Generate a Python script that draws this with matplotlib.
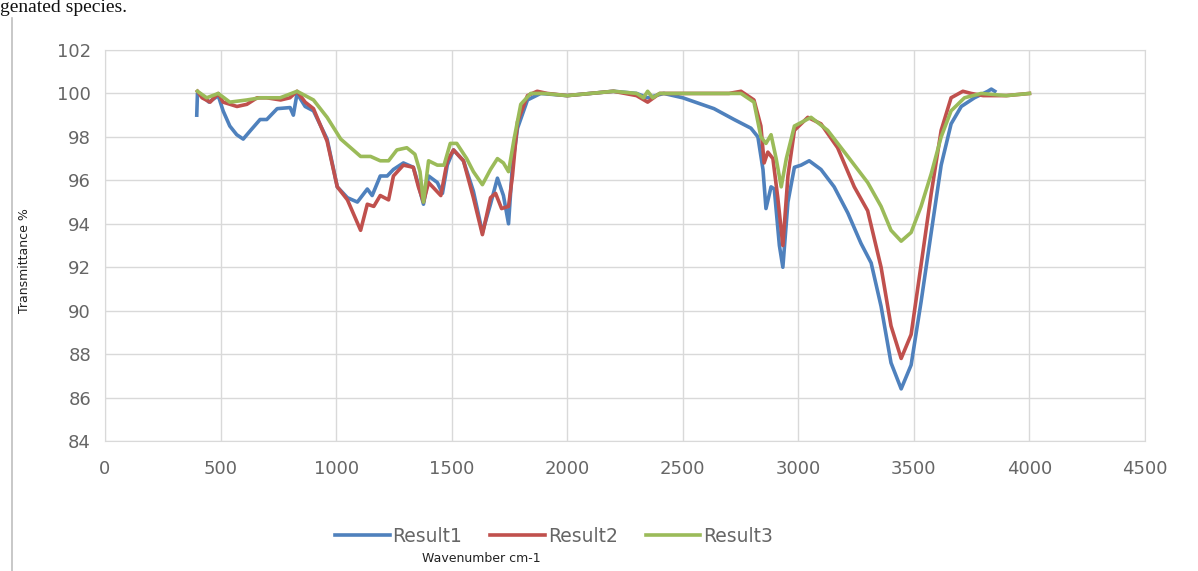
import matplotlib
matplotlib.use("Agg")
import matplotlib.pyplot as plt
from matplotlib.lines import Line2D

# ---- data ----
wn1 = [397, 400, 410, 450, 490, 511, 540, 570, 598, 630,
       671, 700, 745, 801, 815, 831, 866, 902, 961, 1005,
       1049, 1092, 1135, 1156, 1191, 1221, 1248, 1291, 1334, 1356,
       1378, 1400, 1438, 1460, 1481, 1508, 1551, 1594, 1633, 1668,
       1698, 1724, 1746, 1763, 1785, 1828, 1885, 2000, 2100, 2200,
       2300, 2348, 2418, 2500, 2635, 2722, 2795, 2825, 2847, 2860,
       2882, 2896, 2918, 2933, 2955, 2983, 3012, 3047, 3098, 3155,
       3214, 3271, 3315, 3358, 3401, 3445, 3488, 3531, 3575, 3618,
       3661, 3705, 3762, 3820, 3835, 3850]
result1 = [99.0, 100.0, 100.0, 99.6, 99.9, 99.2, 98.5, 98.1, 97.9, 98.3,
           98.8, 98.8, 99.3, 99.35, 99.0, 100.0, 99.4, 99.2, 97.9, 95.7,
           95.2, 95.0, 95.6, 95.3, 96.2, 96.2, 96.5, 96.8, 96.6, 95.8,
           94.9, 96.2, 95.9, 95.4, 96.7, 97.4, 96.9, 95.5, 93.6, 94.9,
           96.1, 95.3, 94.0, 96.7, 98.4, 99.7, 100.0, 99.9, 100.0, 100.1,
           100.0, 99.8, 100.0, 99.8, 99.3, 98.8, 98.4, 98.0, 96.5, 94.7,
           95.7, 95.6, 93.0, 92.0, 95.0, 96.6, 96.7, 96.9, 96.5, 95.7,
           94.5, 93.1, 92.2, 90.2, 87.6, 86.4, 87.5, 90.4, 93.6, 96.7,
           98.6, 99.4, 99.8, 100.1, 100.2, 100.1]

wn2 = [400, 420, 455, 490, 511, 571, 614, 658, 700, 760,
       800, 831, 866, 902, 961, 1005, 1049, 1106, 1135, 1163,
       1191, 1227, 1248, 1291, 1334, 1356, 1378, 1400, 1453, 1481,
       1508, 1551, 1594, 1633, 1668, 1690, 1716, 1746, 1763, 1785,
       1828, 1870, 1914, 2000, 2100, 2200, 2300, 2348, 2400, 2500,
       2600, 2700, 2752, 2808, 2838, 2852, 2868, 2890, 2911, 2933,
       2955, 2983, 3041, 3098, 3170, 3242, 3300, 3358, 3401, 3445,
       3488, 3531, 3575, 3618, 3661, 3712, 3748, 3800, 3900, 4000]
result2 = [100.1, 99.8, 99.6, 100.0, 99.6, 99.4, 99.5, 99.8, 99.8, 99.7,
           99.8, 100.1, 99.6, 99.3, 97.8, 95.7, 95.1, 93.7, 94.9, 94.8,
           95.3, 95.1, 96.2, 96.7, 96.6, 95.7, 95.0, 95.9, 95.3, 96.9,
           97.4, 96.9, 95.2, 93.5, 95.2, 95.4, 94.7, 94.8, 96.2, 98.7,
           99.9, 100.1, 100.0, 99.9, 100.0, 100.1, 99.9, 99.6, 100.0, 100.0,
           100.0, 100.0, 100.1, 99.7, 98.5, 96.8, 97.3, 97.0, 95.2, 93.0,
           96.2, 98.3, 98.9, 98.6, 97.5, 95.7, 94.6, 92.0, 89.3, 87.8,
           88.9, 92.1, 95.4, 98.3, 99.8, 100.1, 100.0, 99.9, 99.9, 100.0]

wn3 = [400, 440, 490, 540, 614, 671, 758, 831, 902, 961,
       1020, 1063, 1106, 1149, 1191, 1227, 1263, 1306, 1341, 1363,
       1378, 1400, 1438, 1467, 1494, 1522, 1565, 1594, 1633, 1668,
       1698, 1724, 1746, 1770, 1799, 1842, 1900, 2000, 2100, 2200,
       2300, 2330, 2348, 2370, 2400, 2500, 2600, 2700, 2752, 2808,
       2838, 2860, 2882, 2904, 2926, 2948, 2983, 3055, 3127, 3214,
       3300, 3358, 3401, 3445, 3488, 3531, 3575, 3618, 3661, 3719,
       3791, 3900, 4000]
result3 = [100.1, 99.8, 100.0, 99.6, 99.7, 99.8, 99.8, 100.1, 99.7, 98.9,
           97.9, 97.5, 97.1, 97.1, 96.9, 96.9, 97.4, 97.5, 97.2, 96.4,
           95.0, 96.9, 96.7, 96.7, 97.7, 97.7, 97.0, 96.4, 95.8, 96.5,
           97.0, 96.8, 96.4, 97.9, 99.5, 100.0, 100.0, 99.9, 100.0, 100.1,
           100.0, 99.8, 100.1, 99.8, 100.0, 100.0, 100.0, 100.0, 100.0, 99.6,
           98.0, 97.7, 98.1, 97.0, 95.7, 97.0, 98.5, 98.9, 98.3, 97.1,
           95.9, 94.8, 93.7, 93.2, 93.6, 94.8, 96.3, 98.0, 99.2, 99.8,
           100.0, 99.9, 100.0]

series_names = ["Result1", "Result2", "Result3"]
x_ticks = [0, 500, 1000, 1500, 2000, 2500, 3000, 3500, 4000, 4500]
y_ticks = [84, 86, 88, 90, 92, 94, 96, 98, 100, 102]

colors = ["#4F81BD", "#C0504D", "#9BBB59"]

fig = plt.figure(figsize=(11.98, 5.71), dpi=100)
ax = fig.add_axes([105 / 1198, 1 - 441 / 571, (1145 - 105) / 1198, (441 - 50) / 571])

for wn, vals, name, c in zip([wn1, wn2, wn3], [result1, result2, result3], series_names, colors):
    ax.plot(wn, vals, color=c, lw=2.6, label=name, solid_joinstyle="round")

ax.set_xlim(0, 4500)
ax.set_ylim(84, 102)
ax.set_xticks(x_ticks)
ax.set_yticks(y_ticks)
ax.grid(True, color="#D9D9D9", lw=1.0)
ax.set_axisbelow(True)
for s in ax.spines.values():
    s.set_color("#D9D9D9")
ax.tick_params(length=0, labelsize=13, labelcolor="#666666", pad=10)
ax.tick_params(axis="x", pad=14)

fig.text(25 / 1198, 1 - 261 / 571, "Transmittance %", fontsize=9, rotation=90,
         ha="center", va="center", color="#222222")

leg = fig.legend(loc="center", bbox_to_anchor=(554 / 1198, 1 - 536 / 571), ncol=3,
                 frameon=False, fontsize=13.5, handlelength=2.9, columnspacing=1.5,
                 handletextpad=0.15)
for t in leg.get_texts():
    t.set_color("#666666")

fig.text(481 / 1198, 1 - 559 / 571, "Wavenumber cm-1", fontsize=9, ha="center", va="center",
         color="#222222")

# caption fragment and outer chart frame
fig.text(0.0, 1 - 12 / 571, "genated species.", fontsize=14, family="Liberation Serif",
         ha="left", va="baseline", color="#111111")
fig.add_artist(Line2D([12 / 1198, 12 / 1198], [0, 1 - 18 / 571], transform=fig.transFigure,
                      color="#BFBFBF", lw=1.2))

fig.savefig("out.png", dpi=100, facecolor="white")
